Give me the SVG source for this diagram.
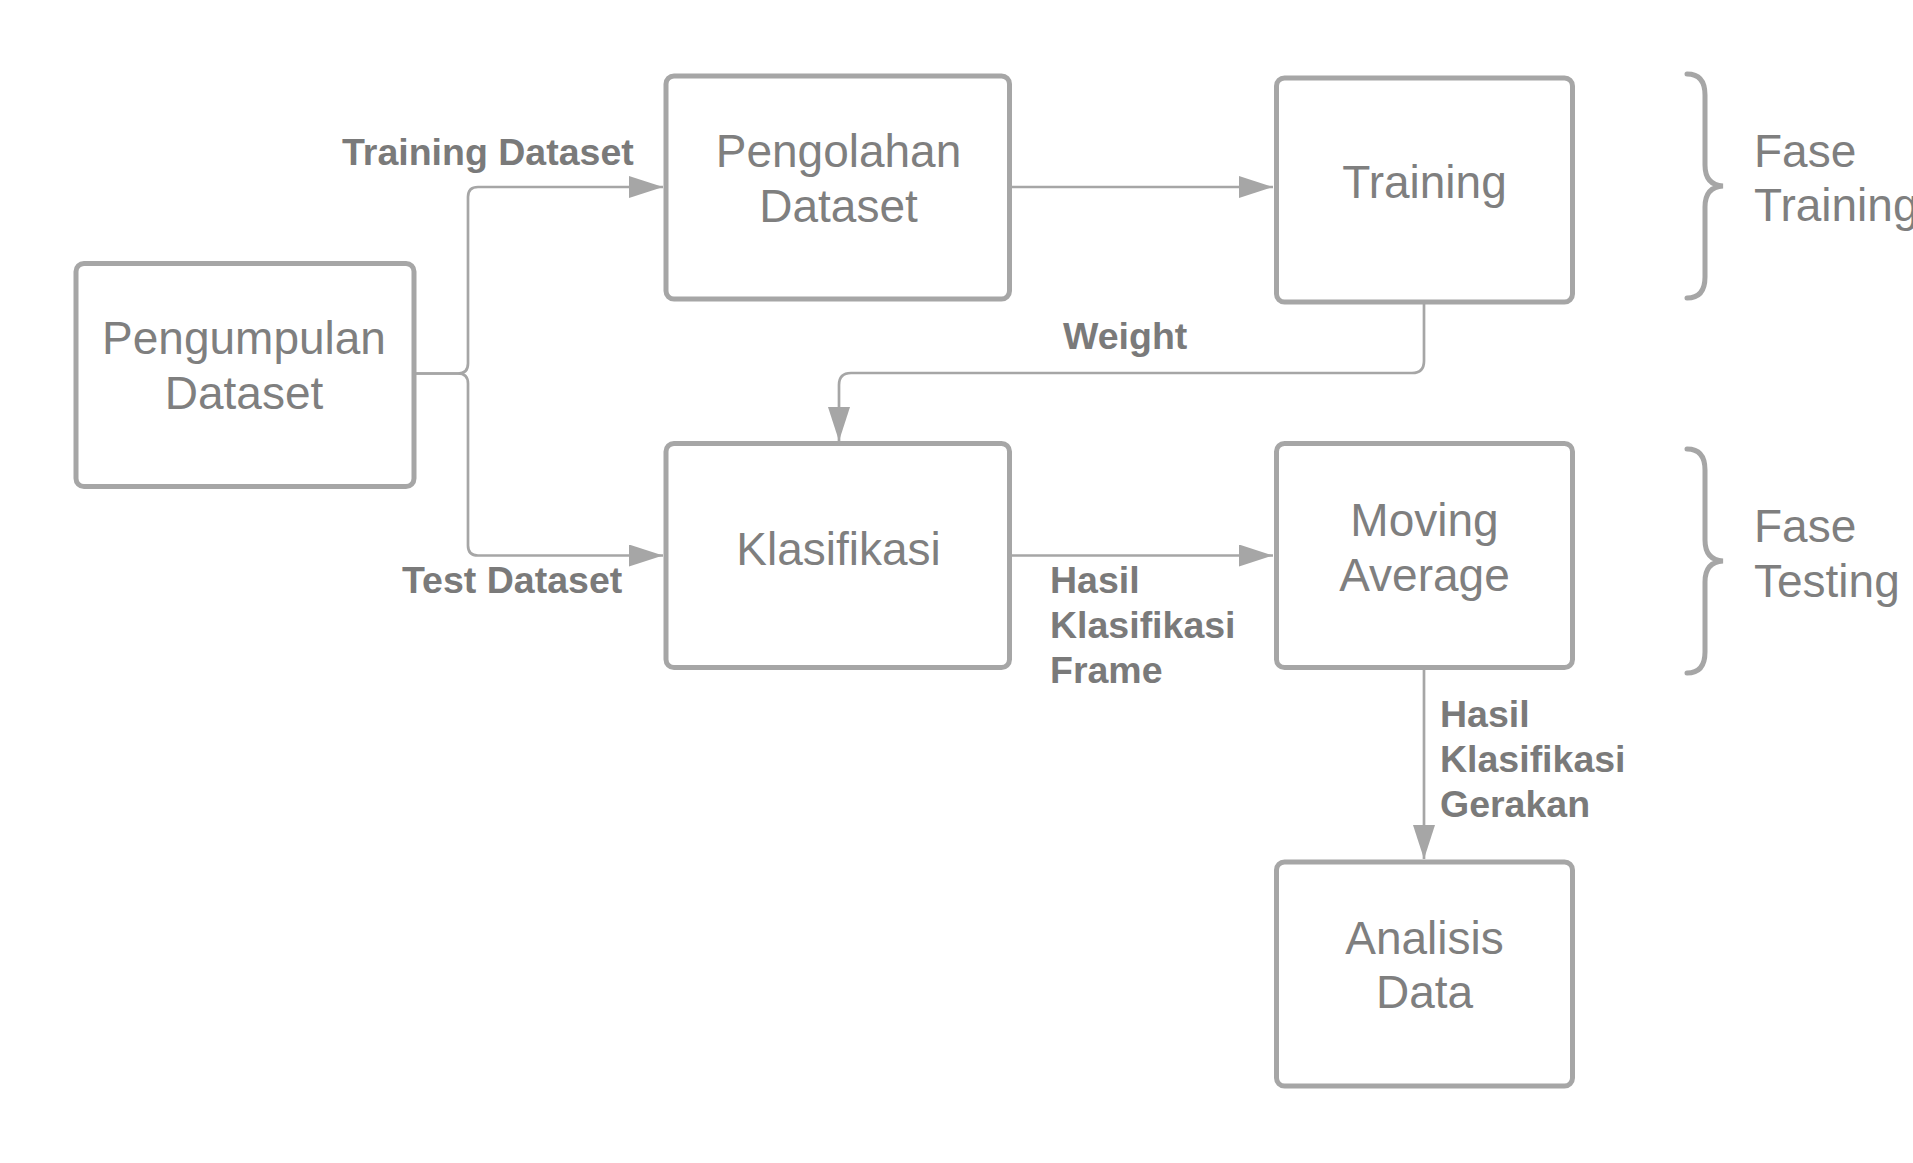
<svg xmlns="http://www.w3.org/2000/svg" width="1913" height="1163" viewBox="0 0 1913 1163">
<style>
.box{fill:#ffffff;stroke:#a6a6a6;stroke-width:5}
.nt{font-family:"Liberation Sans",Arial,sans-serif;font-size:46px;fill:#7f7f7f;text-anchor:middle}
.ft{font-family:"Liberation Sans",Arial,sans-serif;font-size:46px;fill:#7f7f7f}
.lb{font-family:"Liberation Sans",Arial,sans-serif;font-size:37.5px;font-weight:bold;fill:#7a7a7a}
.cn{fill:none;stroke:#a6a6a6;stroke-width:2.7}
.br{fill:none;stroke:#a6a6a6;stroke-width:5;stroke-linecap:round}
</style>
<defs>
<marker id="arr" markerUnits="userSpaceOnUse" markerWidth="34" markerHeight="22" refX="34" refY="11" orient="auto">
<path d="M0,0 L34,11 L0,22 Z" fill="#a6a6a6"/>
</marker>
</defs>
<rect width="1913" height="1163" fill="#ffffff"/>
<g id="connectors">
<path class="cn" d="M416,373.5 H458 Q468,373.5 468,363.5 V197 Q468,187 478,187 H663" marker-end="url(#arr)"/>
<path class="cn" d="M416,373.5 H458 Q468,373.5 468,383.5 V545.5 Q468,555.5 478,555.5 H663" marker-end="url(#arr)"/>
<path class="cn" d="M1010,187 H1273" marker-end="url(#arr)"/>
<path class="cn" d="M1424,303 V361 Q1424,373 1412,373 H851 Q839,373 839,385 V441" marker-end="url(#arr)"/>
<path class="cn" d="M1010,555.5 H1273" marker-end="url(#arr)"/>
<path class="cn" d="M1424,668 V859" marker-end="url(#arr)"/>
<text class="lb" x="342" y="164.5">Training Dataset</text>
<text class="lb" x="402" y="593">Test Dataset</text>
<text class="lb" x="1063" y="349">Weight</text>
<text class="lb" x="1050" y="593">Hasil</text>
<text class="lb" x="1050" y="637.5">Klasifikasi</text>
<text class="lb" x="1050" y="682.5">Frame</text>
<text class="lb" x="1440" y="727">Hasil</text>
<text class="lb" x="1440" y="772">Klasifikasi</text>
<text class="lb" x="1440" y="816.5">Gerakan</text>
</g>
<g id="pengumpulan">
<rect class="box" x="76" y="263.5" width="338" height="223" rx="8"/>
<text class="nt" x="244" y="354">Pengumpulan</text>
<text class="nt" x="244" y="408.5">Dataset</text>
</g>
<g id="pengolahan">
<rect class="box" x="666" y="76" width="343.5" height="223" rx="8"/>
<text class="nt" x="838.5" y="166.5">Pengolahan</text>
<text class="nt" x="838.5" y="221.5">Dataset</text>
</g>
<g id="training">
<rect class="box" x="1276.5" y="78" width="296" height="224" rx="8"/>
<text class="nt" x="1424.5" y="198">Training</text>
</g>
<g id="klasifikasi">
<rect class="box" x="666" y="443.5" width="343.5" height="224" rx="8"/>
<text class="nt" x="838.5" y="564.5">Klasifikasi</text>
</g>
<g id="moving-average">
<rect class="box" x="1276.5" y="443.5" width="296" height="224" rx="8"/>
<text class="nt" x="1424.5" y="535.5">Moving</text>
<text class="nt" x="1424.5" y="591">Average</text>
</g>
<g id="analisis-data">
<rect class="box" x="1276.5" y="862" width="296" height="224" rx="8"/>
<text class="nt" x="1424.5" y="954">Analisis</text>
<text class="nt" x="1424.5" y="1008">Data</text>
</g>
<g id="fase-training">
<path class="br" d="M1687,74 Q1705,74 1705,95 V165 Q1705,185 1723,186 Q1705,187 1705,207 V277 Q1705,298 1687,298"/>
<text class="ft" x="1754" y="167">Fase</text>
<text class="ft" x="1754" y="221">Training</text>
</g>
<g id="fase-testing">
<path class="br" d="M1687,449 Q1705,449 1705,470 V540 Q1705,560 1723,561 Q1705,562 1705,582 V652 Q1705,673 1687,673"/>
<text class="ft" x="1754" y="541.5">Fase</text>
<text class="ft" x="1754" y="596.5">Testing</text>
</g>
</svg>
